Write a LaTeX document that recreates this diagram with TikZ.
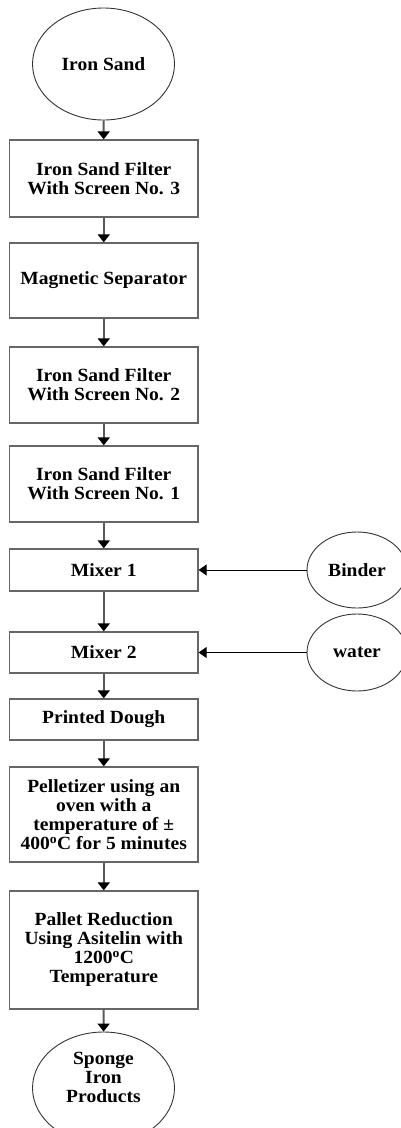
\documentclass[tikz,border=0pt]{standalone}
\usepackage{fontspec}
\setmainfont{Liberation Serif}[FakeStretch=1.05]
\usetikzlibrary{shapes.geometric,arrows.meta}
\begin{document}
\begin{tikzpicture}[x=1pt,y=-1pt,
  every node/.style={font=\bfseries\fontsize{18.6}{19}\selectfont, align=center},
  stepbox/.style={draw=black!60, line width=1.3pt, rectangle, minimum width=188.5pt, inner sep=0pt},
  roundbox/.style={draw=black!80, line width=0.9pt, ellipse, inner sep=0pt},
  flow/.style={draw=black!65, line width=1.8pt, -{Triangle[width=12pt,length=8pt,fill=black,color=black]}},
  feed/.style={draw=black, line width=1pt, -{Triangle[width=11pt,length=8pt,fill=black]}}
]
\useasboundingbox (0,0) rectangle (401,1128);
\clip (0,0) rectangle (401,1128);

% main process chain
\node[roundbox, minimum width=142pt, minimum height=112pt] (sand) at (103.5,64) {Iron Sand};
\node[stepbox, minimum height=77pt] (f3) at (103.75,178.5) {Iron Sand Filter\\With Screen No. 3};
\node[stepbox, minimum height=75pt] (mag) at (103.75,280.5) {Magnetic Separator};
\node[stepbox, minimum height=76pt] (f2) at (103.75,385) {Iron Sand Filter\\With Screen No. 2};
\node[stepbox, minimum height=76pt] (f1) at (103.75,484) {Iron Sand Filter\\With Screen No. 1};
\node[stepbox, minimum height=42pt] (mix1) at (103.75,570) {Mixer 1};
\node[stepbox, minimum height=41pt] (mix2) at (103.75,652.5) {Mixer 2};
\node[stepbox, minimum height=41pt] (dough) at (103.75,719.5) {Printed Dough};
\node[stepbox, minimum height=95pt] (pellet) at (103.75,814.5) {Pelletizer using an\\oven with a\\temperature of ±\\400\textsuperscript{o}C for 5 minutes};
\node[stepbox, minimum height=118pt] (reduce) at (103.75,950) {Pallet Reduction\\Using Asitelin with\\1200\textsuperscript{o}C\\Temperature};
\node[roundbox, minimum width=142pt, minimum height=112pt,
      label={[name=spongetxt, align=center, yshift=11pt]center:Sponge\\Iron\\Products}] (sponge) at (103.5,1088) {};

% additives
\node[roundbox, minimum width=100pt, minimum height=76pt] (binder) at (357,570) {Binder};
\node[roundbox, minimum width=100pt, minimum height=77pt] (water) at (357,652.5) {water};

% connectors
\draw[flow] (sand) -- (f3);
\draw[flow] (f3) -- (mag);
\draw[flow] (mag) -- (f2);
\draw[flow] (f2) -- (f1);
\draw[flow] (f1) -- (mix1);
\draw[flow] (mix1) -- (mix2);
\draw[flow] (mix2) -- (dough);
\draw[flow] (dough) -- (pellet);
\draw[flow] (pellet) -- (reduce);
\draw[flow] (reduce) -- (sponge);
\draw[feed] (binder) -- (mix1);
\draw[feed] (water) -- (mix2);
\end{tikzpicture}
\end{document}
